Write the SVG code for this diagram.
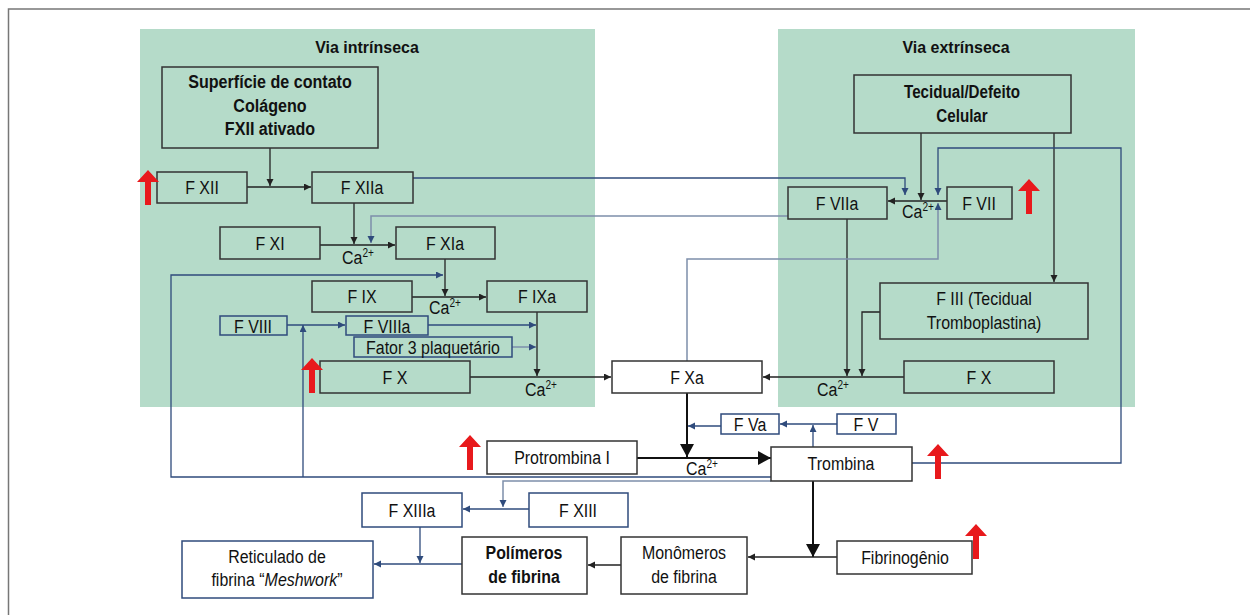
<svg xmlns="http://www.w3.org/2000/svg" width="1250" height="615" viewBox="0 0 1250 615">
  <style>
    text { font-family: "Liberation Sans", Arial, sans-serif; font-size: 19px; fill: #111; }
    .b { font-weight: bold; font-size: 18.5px; }
    .t { font-weight: bold; font-size: 17px; }
    .c { text-anchor: middle; }
    .panel { fill: #b5dbc9; }
    .box { fill: none; stroke: #333; stroke-width: 1.5; }
    .bbox { fill: none; stroke: #2f4b7c; stroke-width: 1.5; }
    .wbox { fill: #fff; stroke: #333; stroke-width: 1.5; }
    .wbbox { fill: #fff; stroke: #2f4b7c; stroke-width: 1.5; }
    .k { fill: none; stroke: #222; stroke-width: 1.3; }
    .kt { fill: none; stroke: #111; stroke-width: 2; }
    .u { fill: none; stroke: #2f4b7c; stroke-width: 1.3; }
    .ul { fill: none; stroke: #7d8fab; stroke-width: 1.5; }
    .up { fill: #e8191c; }
    .sup { font-size: 12px; }
  </style>
  <defs>
    <marker id="ak" markerUnits="userSpaceOnUse" markerWidth="8" markerHeight="8" refX="7" refY="3.5" orient="auto">
      <path d="M0,0 L7,3.5 L0,7 z" fill="#222"/>
    </marker>
    <marker id="au" markerUnits="userSpaceOnUse" markerWidth="8" markerHeight="8" refX="7" refY="3.5" orient="auto">
      <path d="M0,0 L7,3.5 L0,7 z" fill="#2f4b7c"/>
    </marker>
    <marker id="ab" markerUnits="userSpaceOnUse" markerWidth="16" markerHeight="16" refX="13" refY="7" orient="auto">
      <path d="M0,0 L13,7 L0,14 z" fill="#111"/>
    </marker>
    <path id="redup" d="M-3,0 L-3,-23 L-11,-23 L0,-35 L11,-23 L3,-23 L3,0 z"/>
  </defs>

  <!-- frame -->
  <rect x="8.5" y="9" width="1260" height="620" fill="#fff" stroke="#777" stroke-width="1.5"/>

  <!-- pathway panels -->
  <rect class="panel" x="140" y="29" width="455" height="378"/>
  <rect class="panel" x="778" y="29" width="357" height="378"/>
  <text class="t c" transform="translate(367 53) scale(0.94 1)">Via intrínseca</text>
  <text class="t c" transform="translate(956 53) scale(0.94 1)">Via extrínseca</text>

  <!-- connectors -->
  <g id="connectors">
    <!-- intrinsic cascade -->
    <path class="k" d="M270,148 V186" marker-end="url(#ak)"/>
    <path class="k" d="M247,187 H311" marker-end="url(#ak)"/>
    <path class="k" d="M354,203 V244" marker-end="url(#ak)"/>
    <path class="k" d="M320,245 H395" marker-end="url(#ak)"/>
    <path class="k" d="M445,259 V296" marker-end="url(#ak)"/>
    <path class="k" d="M412,297 H486" marker-end="url(#ak)"/>
    <path class="k" d="M537,312 V376" marker-end="url(#ak)"/>
    <path class="k" d="M470,377 H611" marker-end="url(#ak)"/>
    <!-- extrinsic cascade -->
    <path class="k" d="M921,133 V200" marker-end="url(#ak)"/>
    <path class="k" d="M947,201 H888" marker-end="url(#ak)"/>
    <path class="k" d="M1054,133 V282" marker-end="url(#ak)"/>
    <path class="k" d="M847,219 V376" marker-end="url(#ak)"/>
    <path class="k" d="M880,312 H862 V376" marker-end="url(#ak)"/>
    <path class="k" d="M904,377 H763" marker-end="url(#ak)"/>
    <!-- common pathway -->
    <path class="kt" d="M687,393 V457" marker-end="url(#ab)"/>
    <path class="kt" d="M637,458 H771" marker-end="url(#ab)"/>
    <path class="kt" d="M813,481 V557" marker-end="url(#ab)"/>
    <path class="k" d="M837,557 H748" marker-end="url(#ak)"/>
    <path class="k" d="M621,565 H588" marker-end="url(#ak)"/>
    <!-- cofactors and feedback -->
    <path class="u" d="M413,178 H905 V195" marker-end="url(#au)"/>
    <path class="ul" d="M788,216 H371 V243" marker-end="url(#au)"/>
    <path class="u" d="M771,477 H171 V275 H443" marker-end="url(#au)"/>
    <path class="u" d="M303,477 V325" marker-end="url(#au)"/>
    <path class="u" d="M287,325 H345" marker-end="url(#au)"/>
    <path class="u" d="M428,325 H536" marker-end="url(#au)"/>
    <path class="ul" d="M512,347 H536" marker-end="url(#au)"/>
    <path class="ul" d="M687,361 V259 H938 V203" marker-end="url(#au)"/>
    <path class="u" d="M912,463 H1121 V148 H938 V195" marker-end="url(#au)"/>
    <path class="u" d="M837,424 H780" marker-end="url(#au)"/>
    <path class="u" d="M813,447 V425" marker-end="url(#au)"/>
    <path class="u" d="M721,426 H688" marker-end="url(#au)"/>
    <path class="ul" d="M771,481 H503 V507" marker-end="url(#au)"/>
    <path class="u" d="M529,509 H463" marker-end="url(#au)"/>
    <path class="u" d="M420,527 V563" marker-end="url(#au)"/>
    <path class="u" d="M462,564 H374" marker-end="url(#au)"/>
  </g>

  <!-- calcium labels -->
  <g id="calcium">
    <text transform="translate(342 264) scale(0.84 1)">Ca<tspan class="sup" dy="-7">2+</tspan></text>
    <text transform="translate(429 314) scale(0.84 1)">Ca<tspan class="sup" dy="-7">2+</tspan></text>
    <text transform="translate(525 396) scale(0.84 1)">Ca<tspan class="sup" dy="-7">2+</tspan></text>
    <text transform="translate(902 218) scale(0.84 1)">Ca<tspan class="sup" dy="-7">2+</tspan></text>
    <text transform="translate(817 396) scale(0.84 1)">Ca<tspan class="sup" dy="-7">2+</tspan></text>
    <text transform="translate(686 475) scale(0.84 1)">Ca<tspan class="sup" dy="-7">2+</tspan></text>
  </g>

  <!-- intrinsic nodes -->
  <g id="superficie">
    <rect class="box" x="162" y="67" width="216" height="81"/>
    <text class="b c" transform="translate(270 88) scale(0.87 1)">Superfície de contato</text>
    <text class="b c" transform="translate(270 112) scale(0.87 1)">Colágeno</text>
    <text class="b c" transform="translate(270 135) scale(0.87 1)">FXII ativado</text>
  </g>
  <g id="fxii"><rect class="box" x="157" y="172" width="90" height="31"/><text class="c" transform="translate(202 194) scale(0.84 1)">F XII</text></g>
  <g id="fxiia"><rect class="box" x="312" y="172" width="101" height="31"/><text class="c" transform="translate(362 194) scale(0.84 1)">F XIIa</text></g>
  <g id="fxi"><rect class="box" x="220" y="227" width="100" height="32"/><text class="c" transform="translate(270 250) scale(0.84 1)">F XI</text></g>
  <g id="fxia"><rect class="box" x="396" y="227" width="99" height="32"/><text class="c" transform="translate(445 250) scale(0.84 1)">F XIa</text></g>
  <g id="fix"><rect class="box" x="312" y="281" width="100" height="31"/><text class="c" transform="translate(362 303) scale(0.84 1)">F IX</text></g>
  <g id="fixa"><rect class="box" x="487" y="281" width="100" height="31"/><text class="c" transform="translate(537 303) scale(0.84 1)">F IXa</text></g>
  <g id="fviii"><rect class="bbox" x="220" y="316" width="67" height="19"/><text class="c" transform="translate(253 333) scale(0.84 1)">F VIII</text></g>
  <g id="fviiia"><rect class="bbox" x="346" y="316" width="82" height="19"/><text class="c" transform="translate(387 333) scale(0.84 1)">F VIIIa</text></g>
  <g id="fator3"><rect class="bbox" x="354" y="337" width="158" height="20"/><text class="c" transform="translate(433 354) scale(0.84 1)">Fator 3 plaquetário</text></g>
  <g id="fx-int"><rect class="box" x="320" y="361" width="150" height="32"/><text class="c" transform="translate(395 384) scale(0.84 1)">F X</text></g>

  <!-- extrinsic nodes -->
  <g id="tecidual">
    <rect class="box" x="854" y="75" width="217" height="58"/>
    <text class="b c" transform="translate(962 98) scale(0.82 1)">Tecidual/Defeito</text>
    <text class="b c" transform="translate(962 122) scale(0.82 1)">Celular</text>
  </g>
  <g id="fviia"><rect class="box" x="788" y="187" width="99" height="32"/><text class="c" transform="translate(837 210) scale(0.84 1)">F VIIa</text></g>
  <g id="fvii"><rect class="box" x="947" y="187" width="65" height="32"/><text class="c" transform="translate(979 210) scale(0.84 1)">F VII</text></g>
  <g id="fiii">
    <rect class="box" x="880" y="283" width="208" height="56"/>
    <text class="c" transform="translate(984 305) scale(0.84 1)">F III (Tecidual</text>
    <text class="c" transform="translate(984 329) scale(0.84 1)">Tromboplastina)</text>
  </g>
  <g id="fx-ext"><rect class="box" x="904" y="361" width="150" height="32"/><text class="c" transform="translate(979 384) scale(0.84 1)">F X</text></g>

  <!-- common pathway nodes -->
  <g id="fxa"><rect class="wbox" x="612" y="361" width="150" height="32"/><text class="c" transform="translate(687 384) scale(0.84 1)">F Xa</text></g>
  <g id="fva"><rect class="wbbox" x="721" y="414" width="58" height="20"/><text class="c" transform="translate(750 431) scale(0.84 1)">F Va</text></g>
  <g id="fv"><rect class="wbbox" x="837" y="414" width="59" height="20"/><text class="c" transform="translate(866 431) scale(0.84 1)">F V</text></g>
  <g id="protrombina"><rect class="wbox" x="487" y="441" width="150" height="33"/><text class="c" transform="translate(562 464) scale(0.84 1)">Protrombina I</text></g>
  <g id="trombina"><rect class="wbox" x="771" y="447" width="141" height="34"/><text class="c" transform="translate(841 470) scale(0.84 1)">Trombina</text></g>
  <g id="fxiiia"><rect class="wbbox" x="362" y="493" width="100" height="34"/><text class="c" transform="translate(412 517) scale(0.84 1)">F XIIIa</text></g>
  <g id="fxiii"><rect class="wbbox" x="529" y="493" width="99" height="34"/><text class="c" transform="translate(578 517) scale(0.84 1)">F XIII</text></g>
  <g id="reticulado">
    <rect class="wbbox" x="182" y="541" width="191" height="57"/>
    <text class="c" transform="translate(277 563) scale(0.84 1)">Reticulado de</text>
    <text class="c" transform="translate(277 586) scale(0.84 1)">fibrina “<tspan font-style="italic">Meshwork</tspan>”</text>
  </g>
  <g id="polimeros">
    <rect class="wbox" x="462" y="537" width="125" height="57" stroke-width="2"/>
    <text class="b c" transform="translate(524 559) scale(0.86 1)">Polímeros</text>
    <text class="b c" transform="translate(524 583) scale(0.86 1)">de fibrina</text>
  </g>
  <g id="monomeros">
    <rect class="wbox" x="621" y="537" width="126" height="57"/>
    <text class="c" transform="translate(684 559) scale(0.84 1)">Monômeros</text>
    <text class="c" transform="translate(684 583) scale(0.84 1)">de fibrina</text>
  </g>
  <g id="fibrinogenio"><rect class="wbox" x="837" y="541" width="135" height="33"/><text class="c" transform="translate(905 564) scale(0.84 1)">Fibrinogênio</text></g>

  <!-- increase markers -->
  <g id="increases">
    <use href="#redup" class="up" x="148" y="205"/>
    <use href="#redup" class="up" x="1029" y="214"/>
    <use href="#redup" class="up" x="312" y="393"/>
    <use href="#redup" class="up" x="470" y="470"/>
    <use href="#redup" class="up" x="938" y="479"/>
    <use href="#redup" class="up" x="976" y="559"/>
  </g>
</svg>
